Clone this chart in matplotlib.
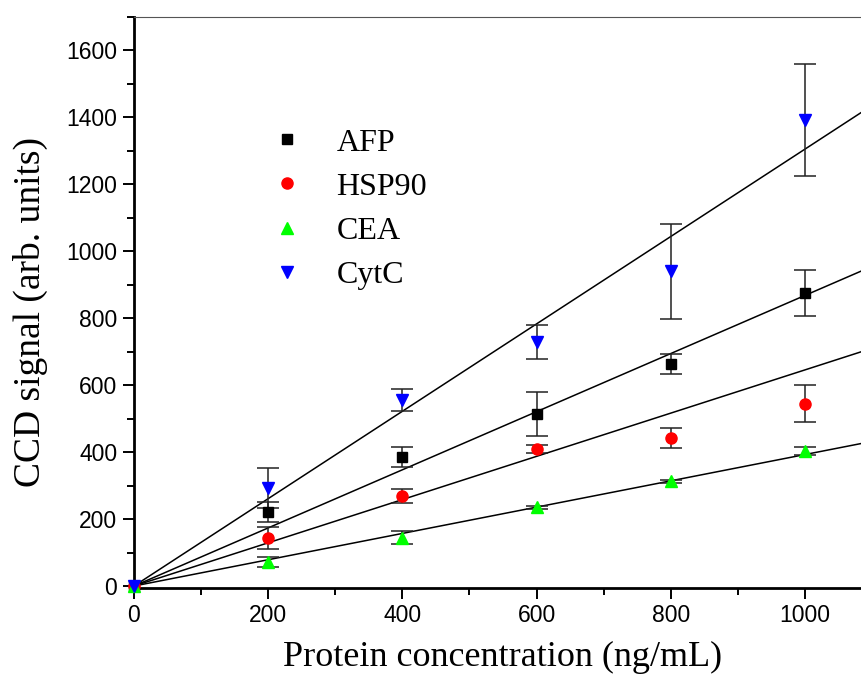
import numpy as np
import matplotlib

matplotlib.use("Agg")

import matplotlib.pyplot as plt
from matplotlib.ticker import MultipleLocator

conc = [0, 200, 400, 600, 800, 1000]

afp = [0, 222, 384, 513, 663, 875]
afp_err = [0, 30, 30, 66, 30, 70]
hsp90 = [0, 143, 269, 408, 443, 545]
hsp90_err = [0, 33, 22, 12, 30, 55]
cea = [0, 73, 144, 235, 313, 402]
cea_err = [0, 15, 20, 5, 5, 12]
cytc = [0, 292, 555, 729, 940, 1391]
cytc_err = [0, 60, 33, 50, 142, 168]

labels = ["AFP", "HSP90", "CEA", "CytC"]
colors = ["black", "red", "#00ff00", "blue"]
markers = ["s", "o", "^", "v"]
msizes = [7, 8, 9, 9]


def fit_through_origin(x, y, err):
    """Weighted least squares slope for a line through the origin."""
    x = np.array(x[1:], dtype=float)
    y = np.array(y[1:], dtype=float)
    w = 1.0 / np.array(err[1:], dtype=float) ** 2
    return np.sum(w * x * y) / np.sum(w * x * x)


fig = plt.figure(figsize=(8.61, 6.77), dpi=100)
ax = fig.add_axes([134 / 861, 89.3 / 677, 738 / 861, 571 / 677])

series = [(afp, afp_err), (hsp90, hsp90_err), (cea, cea_err), (cytc, cytc_err)]
xfit = np.array([0, 1100])
for (vals, errs) in series:
    slope = fit_through_origin(conc, vals, errs)
    ax.plot(xfit, slope * xfit, color="black", lw=1.1, zorder=2)

for (vals, errs), lab, c, m, ms in zip(series, labels, colors, markers, msizes):
    ax.errorbar(conc[1:], vals[1:], yerr=errs[1:], fmt="none", ecolor="#222222",
                elinewidth=1.1, capsize=8, capthick=1.1, zorder=3)
    ax.plot(conc, vals, linestyle="none", marker=m, color=c, markersize=ms,
            label=lab, zorder=4, clip_on=False)

ax.set_xlim(0, 1100)
ax.set_ylim(-5, 1700)

ax.xaxis.set_major_locator(MultipleLocator(200))
ax.xaxis.set_minor_locator(MultipleLocator(100))
ax.yaxis.set_major_locator(MultipleLocator(200))
ax.yaxis.set_minor_locator(MultipleLocator(100))
ax.tick_params(which="major", direction="out", length=8, width=1.4,
               labelsize=16.5, pad=4)
ax.tick_params(which="minor", direction="out", length=5, width=1.4)
for lab in ax.get_xticklabels() + ax.get_yticklabels():
    lab.set_family("Liberation Sans")

ax.spines["left"].set_linewidth(2)
ax.spines["bottom"].set_linewidth(2)
ax.spines["top"].set_linewidth(0.8)
ax.spines["top"].set_color("#555555")
ax.spines["right"].set_visible(False)

ax.set_xlabel("Protein concentration (ng/mL)", family="Liberation Serif",
              fontsize=26)
ax.set_ylabel("CCD signal (arb. units)", family="Liberation Serif",
              fontsize=27)
ax.xaxis.set_label_coords(0.5, -0.093)
ax.yaxis.set_label_coords(-0.1165, 0.483)

ax.legend(loc="upper left", bbox_to_anchor=(0.136, 0.855), frameon=False,
          prop={"family": "Liberation Serif", "size": 23},
          handletextpad=0.8, labelspacing=0.46, handlelength=1.5)

plt.savefig("out.png", dpi=100)
plt.close()
